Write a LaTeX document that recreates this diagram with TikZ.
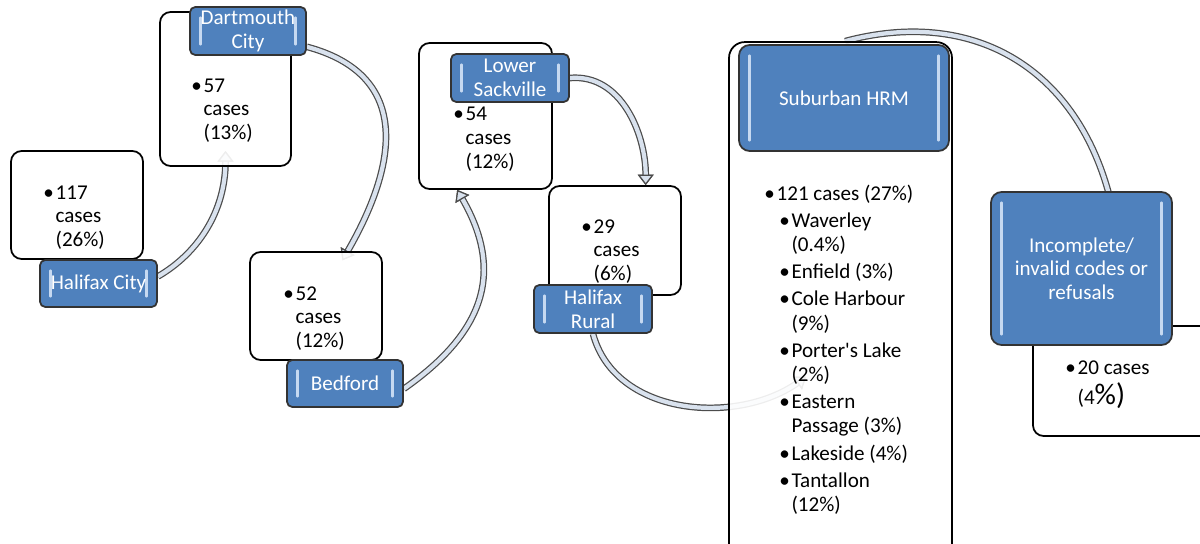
\documentclass[tikz,border=0pt]{standalone}
\usepackage{fontspec}
\setmainfont{Carlito}[Ligatures=TeXOff]
\usepackage{tikz}
\usetikzlibrary{positioning,arrows.meta}

\definecolor{labblue}{HTML}{4F81BD}
\definecolor{bevel}{HTML}{C6D9F1}
\definecolor{flowfill}{HTML}{D9E2EE}

\pgfdeclarelayer{flows}
\pgfdeclarelayer{boxes}
\pgfsetlayers{flows,boxes,main}

\newcommand{\bul}{\makebox[7pt][l]{\textbullet}}
\newcommand{\bulind}{\hspace*{7pt}}
\newcommand{\subbul}{\hspace*{8.5pt}\bul}
\newcommand{\subind}{\hspace*{15.5pt}}

\begin{document}
\begin{tikzpicture}[x=0.02cm, y=-0.02cm,
  casebox/.style={draw, line width=1pt, fill=white, fill opacity=0.9, rounded corners=6pt, inner sep=0pt},
  placelab/.style={draw=black!80, line width=1pt, fill=labblue, rounded corners=3pt,
    text=white, align=center, inner sep=0pt, font=\fontsize{12}{13.5}\selectfont,
    path picture={\draw[bevel, line width=1.4pt, line cap=round]
      ([xshift=6pt,yshift=6pt]path picture bounding box.south west) -- ([xshift=6pt,yshift=-6pt]path picture bounding box.north west)
      ([xshift=-6pt,yshift=6pt]path picture bounding box.south east) -- ([xshift=-6pt,yshift=-6pt]path picture bounding box.north east);}},
  casetext/.style={anchor=base west, inner sep=0pt, font=\fontsize{12}{13.5}\selectfont},
  flow/.style={draw=flowfill, line width=2.4pt,
    -{Triangle[length=6pt,width=9pt,line width=0.7pt,color=black!70,fill=flowfill]},
    preaction={draw=black!70, line width=3.8pt}}]
  \useasboundingbox (0,0) rectangle (1200,544);
  \clip (0,0) rectangle (1200,544);

  \begin{pgfonlayer}{boxes}
  \node[casebox, minimum width=2.64cm, minimum height=2.16cm] (hcbox) at (77,205) {};
  \node[casebox, minimum width=2.62cm, minimum height=3.08cm] (dcbox) at (225.5,89) {};
  \node[casebox, minimum width=2.64cm, minimum height=2.16cm] (bdbox) at (316,306) {};
  \node[casebox, minimum width=2.66cm, minimum height=2.92cm] (lsbox) at (485.5,116) {};
  \node[casebox, minimum width=2.64cm, minimum height=2.18cm] (hrbox) at (615,240.5) {};
  \node[casebox, rounded corners=9pt, minimum width=4.46cm, minimum height=10.56cm] (sbbox) at (840.5,306) {};
  \node[casebox, minimum width=3.64cm, minimum height=2.2cm] (icbox) at (1124,381) {};
  \end{pgfonlayer}

  \node[placelab, minimum width=2.34cm, minimum height=0.94cm] (hclab) at (98.5,283.5) {Halifax City};
  \node[placelab, minimum width=2.32cm, minimum height=0.96cm] (dclab) at (248,31) {Dartmouth\\City};
  \node[placelab, minimum width=2.32cm, minimum height=0.94cm] (bdlab) at (345,383.5) {Bedford};
  \node[placelab, minimum width=2.36cm, minimum height=0.96cm] (lslab) at (510,78) {Lower\\Sackville};
  \node[placelab, minimum width=2.36cm, minimum height=0.96cm] (hrlab) at (593,309) {Halifax\\Rural};
  \node[placelab, rounded corners=6pt, minimum width=4.2cm, minimum height=2.12cm] (sblab) at (844,98) {Suburban HRM};
  \node[placelab, rounded corners=6pt, minimum width=3.62cm, minimum height=3.06cm] (iclab) at (1081.5,268.5) {Incomplete/\\invalid codes or\\refusals};

  \coordinate (sbin) at (806,377);

  \begin{pgfonlayer}{flows}
  \draw[flow, shorten >=-9pt] ([yshift=4pt]hclab.east) to[out=30, in=-90, looseness=0.9] (dcbox.south);
  \draw[flow, shorten >=-6pt] ([yshift=-9pt]dclab.east) to[out=-15, in=60, looseness=1.3] (bdbox.60);
  \draw[flow] ([yshift=-3pt]bdlab.east) to[out=35, in=-60, looseness=1.2] (lsbox.-111);
  \draw[flow] (lslab.east) to[out=5, in=90] (hrbox.61);
  \draw[flow] (hrlab.south) to[out=-75, in=215] (sbin);
  \draw[flow, shorten >=-8pt] (sbbox.89) to[out=15, in=105, looseness=1.1] (iclab.71);
  \end{pgfonlayer}

  \node[casetext] (hctxt) at (43,199) {\begin{tabular}[t]{@{}l@{}}\bul 117\\ \bulind cases\\ \bulind (26\%)\end{tabular}};
  \node[casetext] (dctxt) at (191,92) {\begin{tabular}[t]{@{}l@{}}\bul 57\\ \bulind cases\\ \bulind (13\%)\end{tabular}};
  \node[casetext] (bdtxt) at (283,300) {\begin{tabular}[t]{@{}l@{}}\bul 52\\ \bulind cases\\ \bulind (12\%)\end{tabular}};
  \node[casetext] (lstxt) at (453,121) {\begin{tabular}[t]{@{}l@{}}\bul 54\\ \bulind cases\\ \bulind (12\%)\end{tabular}};
  \node[casetext] (hrtxt) at (581,233) {\begin{tabular}[t]{@{}l@{}}\bul 29\\ \bulind cases\\ \bulind (6\%)\end{tabular}};
  \node[casetext, font=\fontsize{12}{13.9}\selectfont] (sbtxt) at (764,200) {\begin{tabular}[t]{@{}l@{}}
    \bul 121 cases (27\%)\\[1.5pt]
    \subbul Waverley\\
    \subind (0.4\%)\\[1.5pt]
    \subbul Enfield (3\%)\\[1.5pt]
    \subbul Cole Harbour\\
    \subind (9\%)\\[1.5pt]
    \subbul Porter's Lake\\
    \subind (2\%)\\[1.5pt]
    \subbul Eastern\\
    \subind Passage (3\%)\\[1.5pt]
    \subbul Lakeside (4\%)\\[1.5pt]
    \subbul Tantallon\\
    \subind (12\%)
  \end{tabular}};
  \node[casetext] (ictxt) at (1065,374) {\begin{tabular}[t]{@{}l@{}}\bul 20 cases\\[1pt] \bulind (4{\fontsize{17}{17}\selectfont\%)}\end{tabular}};
\end{tikzpicture}
\end{document}
